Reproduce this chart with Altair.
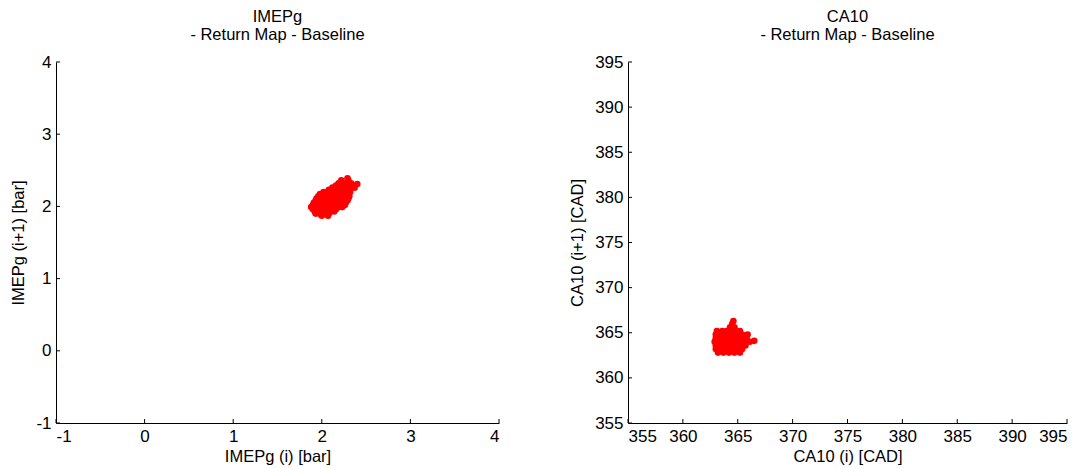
import altair as alt
import pandas as pd

# IMEPg return map: cycle i vs cycle i+1 [bar]
imep_i = [
    2.00, 2.07,
    1.93, 1.97, 2.02, 2.08,
    1.92, 1.96, 2.00, 2.04, 2.10, 2.14,
    1.90, 1.95, 1.99, 2.03, 2.07, 2.12, 2.16,
    1.88, 1.92, 1.97, 2.01, 2.06, 2.10, 2.15, 2.19, 2.23,
    1.90, 1.95, 2.00, 2.04, 2.08, 2.13, 2.17, 2.21, 2.26,
    1.91, 1.96, 2.01, 2.05, 2.10, 2.14, 2.19, 2.23, 2.27,
    1.93, 1.98, 2.02, 2.07, 2.11, 2.16, 2.20, 2.25, 2.29,
    1.94, 1.99, 2.04, 2.08, 2.13, 2.17, 2.22, 2.26, 2.30,
    1.96, 2.01, 2.05, 2.10, 2.14, 2.19, 2.23, 2.28, 2.31,
    1.98, 2.03, 2.08, 2.12, 2.17, 2.21, 2.25, 2.29,
    2.02, 2.06, 2.11, 2.15, 2.20, 2.24, 2.28, 2.32,
    2.08, 2.13, 2.18, 2.22, 2.27, 2.31,
    2.12, 2.17, 2.21, 2.26, 2.31, 2.37,
    2.16, 2.20, 2.25, 2.30, 2.35, 2.40,
    2.19, 2.24, 2.28, 2.33,
    2.22, 2.30,
    2.29,
]
imep_next = [
    1.87, 1.87,
    1.90, 1.90, 1.90, 1.90,
    1.93, 1.93, 1.93, 1.93, 1.93, 1.93,
    1.96, 1.96, 1.96, 1.96, 1.96, 1.96, 1.96,
    1.99, 1.99, 1.99, 1.99, 1.99, 1.99, 1.99, 1.99, 1.99,
    2.02, 2.02, 2.02, 2.02, 2.02, 2.02, 2.02, 2.02, 2.02,
    2.05, 2.05, 2.05, 2.05, 2.05, 2.05, 2.05, 2.05, 2.05,
    2.08, 2.08, 2.08, 2.08, 2.08, 2.08, 2.08, 2.08, 2.08,
    2.11, 2.11, 2.11, 2.11, 2.11, 2.11, 2.11, 2.11, 2.11,
    2.14, 2.14, 2.14, 2.14, 2.14, 2.14, 2.14, 2.14, 2.14,
    2.17, 2.17, 2.17, 2.17, 2.17, 2.17, 2.17, 2.17,
    2.20, 2.20, 2.20, 2.20, 2.20, 2.20, 2.20, 2.20,
    2.23, 2.23, 2.23, 2.23, 2.23, 2.23,
    2.26, 2.26, 2.26, 2.26, 2.26, 2.26,
    2.29, 2.29, 2.29, 2.29, 2.29, 2.31,
    2.32, 2.32, 2.32, 2.32,
    2.36, 2.36,
    2.39,
]

# CA10 return map: cycle i vs cycle i+1 [CAD]
ca10_i = [
    363.2, 363.7, 364.2, 364.7, 365.2,
    363.0, 363.4, 363.8, 364.2, 364.6, 365.0, 365.4,
    363.0, 363.4, 363.8, 364.2, 364.6, 365.0, 365.4, 365.7,
    362.9, 363.3, 363.7, 364.1, 364.5, 364.9, 365.3, 365.7, 366.1, 366.5,
    363.0, 363.4, 363.8, 364.2, 364.6, 365.0, 365.4, 365.8,
    363.0, 363.4, 363.8, 364.2, 364.6, 365.0, 365.4, 365.9,
    363.1, 363.6, 364.0, 364.4, 364.8, 365.2,
    364.3, 364.7,
    364.5,
    364.6,
]
ca10_next = [
    362.8, 362.8, 362.8, 362.8, 362.8,
    363.2, 363.2, 363.2, 363.2, 363.2, 363.2, 363.2,
    363.6, 363.6, 363.6, 363.6, 363.6, 363.6, 363.6, 363.6,
    364.0, 364.0, 364.0, 364.0, 364.0, 364.0, 364.0, 364.0, 364.0, 364.1,
    364.4, 364.4, 364.4, 364.4, 364.4, 364.4, 364.4, 364.4,
    364.8, 364.8, 364.8, 364.8, 364.8, 364.8, 364.8, 364.8,
    365.2, 365.2, 365.2, 365.2, 365.2, 365.2,
    365.6, 365.6,
    366.0,
    366.3,
]

imep_ticks = [-1, 0, 1, 2, 3, 4]
ca10_ticks = [355, 360, 365, 370, 375, 380, 385, 390, 395]

FONT = "Liberation Sans"
LABEL_FS = 17
TITLE_FS = 16.5
PLOT_H = 361


def return_map(xs, ys, ticks, lo, hi, width, name, xtitle, ytitle):
    pts = pd.DataFrame({"a": xs, "b": ys})
    tk = pd.DataFrame({"a": ticks, "b": ticks})
    sx = alt.Scale(domain=[lo, hi], nice=False, zero=False)
    sy = alt.Scale(domain=[lo, hi], nice=False, zero=False)
    ax = dict(values=ticks, ticks=False, grid=False, domainColor="black",
              domainWidth=1, labelColor="black", titleColor="black",
              labelFont=FONT, titleFont=FONT, labelFontSize=LABEL_FS,
              titleFontSize=TITLE_FS, titleFontWeight="normal",
              labelExpr="'' + datum.value")
    x_enc = alt.X("a:Q", scale=sx, title=xtitle,
                  axis=alt.Axis(labelPadding=5, titlePadding=4, **ax))
    y_enc = alt.Y("b:Q", scale=sy, title=ytitle,
                  axis=alt.Axis(labelPadding=5, titlePadding=9, **ax))
    dots = alt.Chart(pts).mark_circle(size=44, color="#ff0000", opacity=1).encode(
        x=x_enc, y=y_enc,
    )
    # inward-pointing ticks on both axes
    xt = alt.Chart(tk).mark_rule(color="black", strokeWidth=1).encode(
        x=x_enc, y=alt.value(PLOT_H), y2=alt.value(PLOT_H - 4),
    )
    yt = alt.Chart(tk).mark_rule(color="black", strokeWidth=1).encode(
        y=y_enc, x=alt.value(0), x2=alt.value(4),
    )
    return alt.layer(dots, xt, yt).properties(
        width=width, height=PLOT_H,
        title=alt.TitleParams([name, "- Return Map - Baseline"], font=FONT,
                              fontSize=TITLE_FS, fontWeight="normal",
                              color="black", anchor="middle", offset=10,
                              lineHeight=18),
    )


left = return_map(imep_i, imep_next, imep_ticks, -1, 4, 443, "IMEPg",
                  "IMEPg (i) [bar]", "IMEPg (i+1) [bar]")
right = return_map(ca10_i, ca10_next, ca10_ticks, 355, 395, 439, "CA10",
                   "CA10 (i) [CAD]", "CA10 (i+1) [CAD]")

chart = alt.hconcat(left, right, spacing=69).properties(
    padding={"left": 10, "top": 8, "right": 5, "bottom": 5}
).configure(background="white").configure_view(stroke=None)

chart.save("out.html", embed_options={"renderer": "svg", "actions": False})
